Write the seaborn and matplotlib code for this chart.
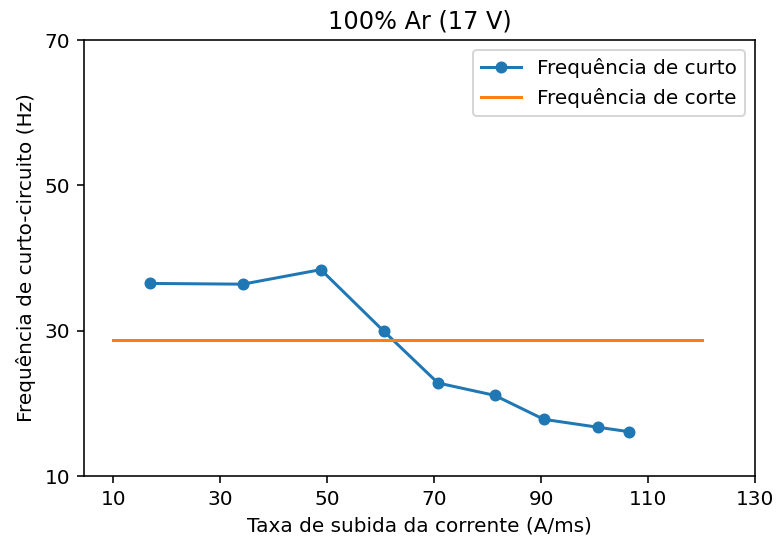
import matplotlib
matplotlib.use("Agg")
import matplotlib.pyplot as plt
import seaborn as sns
import pandas as pd

# Short-circuit frequency versus current rise rate
taxa_subida = [16.9, 34.2, 48.8, 60.6, 70.7, 81.3, 90.5, 100.7, 106.4]
freq_curto = [36.5, 36.4, 38.4, 29.9, 22.8, 21.1, 17.8, 16.7, 16.1]

# Cut-off frequency (constant reference line)
corte_x = [10, 120]
corte_y = [28.7, 28.7]

x_ticks = [10, 30, 50, 70, 90, 110, 130]
y_ticks = [10, 30, 50, 70]

dpi = 144
fig = plt.figure(figsize=(776 / dpi, 544 / dpi), dpi=dpi)
ax = fig.add_axes([84 / 776, 1 - 476 / 544, (755 - 84) / 776, (476 - 40) / 544])

df_curto = pd.DataFrame({"x": taxa_subida, "y": freq_curto})
df_corte = pd.DataFrame({"x": corte_x, "y": corte_y})

sns.lineplot(data=df_curto, x="x", y="y", ax=ax, marker="o", markersize=6,
             markeredgewidth=0, color="#1f77b4", linewidth=1.5,
             label="Frequência de curto")
sns.lineplot(data=df_corte, x="x", y="y", ax=ax, color="#ff7f0e",
             linewidth=1.5, label="Frequência de corte")

ax.set_xticks(x_ticks)
ax.set_yticks(y_ticks)
ax.set_xlim(4.5, 130)
ax.set_ylim(10, 70)
ax.set_title("100% Ar (17 V)", fontsize=12)
ax.set_xlabel("Taxa de subida da corrente (A/ms)", fontsize=10)
ax.set_ylabel("Frequência de curto-circuito (Hz)", fontsize=10)
ax.legend(loc="upper right", fontsize=10)

fig.savefig("out.png", dpi=dpi)
